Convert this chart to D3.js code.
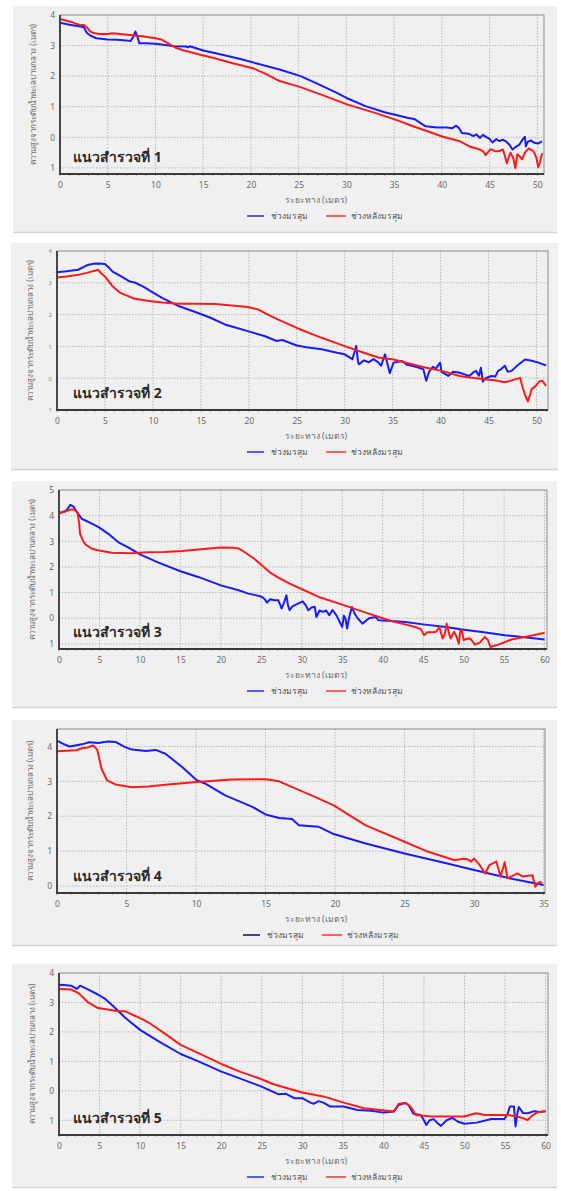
<!DOCTYPE html>
<html><head><meta charset="utf-8">
<script src="https://cdn.jsdelivr.net/npm/d3@7"></script>
<style>
html,body{margin:0;padding:0;background:#fff;}
svg{display:block;}
text{font-family:"Noto Sans","DejaVu Sans",sans-serif;}
</style></head>
<body>
<svg id="chart" width="561" height="1191"></svg>
<script>
// ---------------- DATA ----------------
const panelTitles = ["แนวสำรวจที่ 1","แนวสำรวจที่ 2","แนวสำรวจที่ 3","แนวสำรวจที่ 4","แนวสำรวจที่ 5"];
const seriesNames = ["ช่วงมรสุม","ช่วงหลังมรสุม"];
const xAxisTitle = "ระยะทาง (เมตร)";
const yAxisTitle = "ความสูงจากระดับน้ำทะเลปานกลาง (เมตร)";

const p1XTicks = [0,5,10,15,20,25,30,35,40,45,50];
const p1YTicks = [-1,0,1,2,3,4];
const p1YTickLabels = ["1","0","1","2","3","4"];
const p1XDomain = [0,50.7];
const p1YDomain = [-1.2,4];
const p1Monsoon = [[0,3.75],[1,3.68],[2,3.63],[2.5,3.6],[2.8,3.42],[3.2,3.32],[3.8,3.24],[5,3.2],[6,3.19],[6.9,3.17],[7.4,3.15],[7.7,3.3],[7.9,3.46],[8.1,3.3],[8.3,3.08],[9,3.08],[10,3.06],[10.8,3.03],[12,2.98],[13.2,2.97],[13.4,2.94],[13.6,2.98],[15,2.84],[17,2.7],[19,2.55],[20.2,2.45],[22,2.3],[23,2.22],[25.2,2.0],[27,1.75],[29,1.45],[30.2,1.26],[32,1.02],[34,0.82],[35.2,0.73],[36.5,0.63],[37.1,0.6],[37.5,0.52],[38.3,0.36],[39.5,0.32],[40.5,0.32],[41.1,0.3],[41.5,0.38],[41.8,0.3],[42.1,0.14],[42.8,0.12],[43.3,0.04],[43.6,0.1],[44.0,-0.02],[44.3,0.08],[44.7,0.0],[45.0,-0.05],[45.3,-0.17],[45.7,-0.06],[46.0,-0.12],[46.4,-0.08],[46.7,-0.13],[47.1,-0.25],[47.4,-0.4],[47.8,-0.3],[48.1,-0.25],[48.4,-0.1],[48.7,0.02],[48.8,-0.3],[49.0,-0.15],[49.3,-0.1],[49.7,-0.18],[50.1,-0.2],[50.5,-0.13]];
const p1PostMonsoon = [[0,3.87],[0.6,3.82],[1.3,3.76],[2,3.68],[2.5,3.67],[2.8,3.6],[3.1,3.48],[3.4,3.42],[4.1,3.38],[5,3.38],[5.5,3.4],[6.5,3.37],[7.6,3.34],[8.8,3.3],[10,3.24],[10.6,3.2],[11.1,3.11],[12.1,2.93],[13,2.84],[14.6,2.71],[16,2.6],[18.1,2.42],[20.2,2.26],[21.5,2.08],[23,1.84],[25.2,1.64],[27.5,1.38],[30.2,1.06],[33,0.8],[35.2,0.57],[36.9,0.37],[38.5,0.2],[40.1,0.02],[41.8,-0.12],[42.9,-0.3],[43.9,-0.39],[44.3,-0.45],[44.6,-0.58],[45.0,-0.42],[45.2,-0.39],[45.6,-0.46],[46.0,-0.45],[46.4,-0.4],[46.6,-0.6],[46.8,-0.85],[47.0,-0.65],[47.2,-0.5],[47.5,-0.7],[47.7,-1.01],[47.9,-0.56],[48.1,-0.6],[48.4,-0.72],[48.7,-0.5],[49.1,-0.36],[49.4,-0.42],[49.6,-0.45],[49.9,-0.67],[50.1,-0.98],[50.3,-0.8],[50.5,-0.52]];

const p2XTicks = [0,5,10,15,20,25,30,35,40,45,50];
const p2YTicks = [-1,0,1,2,3,4];
const p2YTickLabels = ["1","0","1","2","3","4"];
const p2XDomain = [0,51.2];
const p2YDomain = [-1,4];
const p2Monsoon = [[0,3.33],[1,3.36],[2.2,3.41],[2.8,3.5],[3.2,3.56],[3.8,3.6],[4.3,3.61],[5.0,3.59],[5.4,3.48],[5.8,3.35],[6.7,3.2],[7.6,3.04],[8.1,3.01],[9,2.88],[9.8,2.73],[11,2.52],[12.6,2.28],[14.7,2.05],[16,1.9],[17.5,1.69],[18.5,1.6],[19.9,1.48],[21.7,1.32],[22.9,1.17],[23.5,1.2],[25,1.03],[26,0.97],[27.6,0.91],[28.5,0.85],[29.2,0.8],[30,0.75],[30.8,0.6],[31.0,0.8],[31.2,1.01],[31.4,0.5],[31.5,0.44],[32,0.56],[32.5,0.5],[33,0.6],[33.5,0.5],[33.8,0.39],[34.2,0.75],[34.5,0.4],[34.7,0.16],[35.1,0.49],[35.6,0.52],[36,0.54],[36.5,0.42],[37,0.39],[37.5,0.35],[38.2,0.28],[38.5,-0.08],[38.8,0.2],[39.2,0.36],[39.5,0.3],[39.95,0.49],[40.1,0.2],[40.8,0.07],[41.3,0.2],[41.9,0.18],[42.5,0.12],[43.0,0.07],[43.4,0.18],[43.7,0.23],[44.0,0.08],[44.2,0.33],[44.4,-0.11],[44.7,0.0],[45.3,0.07],[45.7,0.05],[46.0,0.23],[46.3,0.28],[46.7,0.39],[47.0,0.2],[47.4,0.23],[48,0.4],[48.8,0.59],[49.5,0.55],[50.2,0.49],[51,0.4]];
const p2PostMonsoon = [[0,3.17],[1,3.2],[2.2,3.25],[3.2,3.32],[4.3,3.41],[4.6,3.3],[5.0,3.2],[5.8,2.89],[6.5,2.7],[7.1,2.62],[8.1,2.5],[9.8,2.42],[11,2.38],[12.6,2.34],[14.5,2.34],[16.5,2.33],[18.5,2.28],[19.9,2.24],[21,2.16],[22,2.0],[23.07,1.84],[25.0,1.58],[27.6,1.27],[30,1.01],[32,0.8],[33.5,0.65],[35.1,0.59],[37.0,0.44],[38.5,0.33],[40.1,0.23],[42,0.07],[43,0.02],[44.6,-0.03],[45.8,-0.07],[46.7,-0.13],[47.5,-0.06],[48.3,0.01],[48.6,-0.34],[48.9,-0.6],[49.1,-0.73],[49.3,-0.55],[49.5,-0.34],[49.9,-0.25],[50.3,-0.1],[50.6,-0.08],[51,-0.24]];

const p3XTicks = [0,5,10,15,20,25,30,35,40,45,50,55,60];
const p3YTicks = [-1,0,1,2,3,4,5];
const p3YTickLabels = ["1","0","1","2","3","4","5"];
const p3XDomain = [0,60.3];
const p3YDomain = [-1.2,5];
const p3Monsoon = [[0,4.1],[0.3,4.12],[0.9,4.2],[1.4,4.42],[1.8,4.35],[2.1,4.2],[2.8,3.88],[4,3.7],[4.9,3.55],[6.1,3.29],[7.3,2.97],[8.6,2.75],[10,2.49],[12.3,2.17],[15,1.83],[17.2,1.61],[20,1.28],[22.2,1.09],[23.4,0.96],[24.3,0.9],[25.1,0.83],[25.4,0.75],[25.7,0.61],[26.1,0.74],[26.6,0.7],[27.1,0.7],[27.3,0.55],[27.5,0.38],[27.8,0.6],[28.1,0.89],[28.3,0.5],[28.5,0.31],[28.8,0.45],[29.4,0.55],[30.1,0.66],[30.5,0.5],[30.8,0.31],[31.2,0.42],[31.6,0.45],[31.8,0.05],[32.2,0.3],[32.6,0.25],[33.0,0.3],[33.4,0.12],[33.8,0.32],[34.3,0.1],[35.0,-0.34],[35.2,0.1],[35.4,-0.01],[35.6,-0.4],[35.9,0.1],[36.2,0.44],[36.5,0.2],[36.9,0.0],[37.5,-0.21],[38.3,0.0],[39.1,0.05],[39.5,-0.08],[40.5,-0.1],[41.6,-0.12],[42.8,-0.15],[45,-0.24],[47.8,-0.34],[49.8,-0.44],[52.5,-0.55],[55.1,-0.66],[57.5,-0.74],[60,-0.83]];
const p3PostMonsoon = [[0,4.1],[0.7,4.15],[1.4,4.24],[1.9,4.24],[2.3,4.1],[2.5,3.68],[2.6,3.29],[3.0,3.0],[3.3,2.87],[4.0,2.72],[4.8,2.65],[6.5,2.55],[8.9,2.53],[11,2.57],[13,2.58],[15.2,2.62],[17.2,2.68],[20,2.76],[21.5,2.75],[22.2,2.72],[22.6,2.65],[24,2.35],[25.1,2.06],[26,1.8],[27.1,1.58],[28.5,1.35],[30.1,1.12],[32.1,0.83],[35,0.53],[37.9,0.22],[39.9,0.01],[41.4,-0.14],[43,-0.26],[44.0,-0.34],[44.7,-0.42],[45.1,-0.66],[45.5,-0.55],[46.3,-0.55],[46.6,-0.53],[47.0,-0.34],[47.4,-0.79],[47.7,-0.6],[47.9,-0.21],[48.2,-0.6],[48.4,-0.79],[48.8,-0.53],[49.1,-0.7],[49.4,-0.99],[49.6,-0.47],[49.8,-0.5],[50.0,-0.85],[50.4,-0.8],[50.8,-0.79],[51.1,-0.9],[51.4,-1.03],[52,-0.95],[52.6,-0.73],[53.0,-0.85],[53.3,-1.12],[54.3,-1.03],[55.9,-0.83],[58,-0.7],[60,-0.57]];

const p4XTicks = [0,5,10,15,20,25,30,35];
const p4YTicks = [0,1,2,3,4];
const p4YTickLabels = ["0","1","2","3","4"];
const p4XDomain = [0,35.1];
const p4YDomain = [-0.2,4.5];
const p4Monsoon = [[0,4.17],[0.4,4.08],[0.9,4.0],[1.8,4.06],[2.3,4.12],[3.0,4.1],[3.4,4.13],[3.7,4.14],[4.2,4.13],[4.9,3.98],[5.4,3.91],[6.4,3.87],[7.1,3.9],[7.8,3.79],[9.0,3.41],[10.05,3.03],[10.7,2.93],[12.1,2.6],[14.05,2.27],[15,2.05],[15.97,1.95],[16.9,1.92],[17.4,1.74],[18.8,1.7],[19.9,1.49],[22.2,1.22],[25,0.93],[28,0.65],[30,0.46],[31.6,0.31],[32.8,0.2],[35,0.03]];
const p4PostMonsoon = [[0,3.86],[1.4,3.89],[1.8,3.95],[2.2,3.97],[2.6,4.03],[2.9,3.9],[3.2,3.36],[3.6,3.03],[4.2,2.91],[5.4,2.83],[6.6,2.85],[7.8,2.9],[10.05,2.98],[12.6,3.05],[15,3.06],[15.97,3.0],[18.3,2.6],[19.9,2.31],[22.2,1.74],[25,1.27],[26.7,0.98],[28.6,0.74],[29.2,0.78],[29.5,0.77],[29.8,0.7],[30,0.79],[30.4,0.6],[30.8,0.36],[31.1,0.6],[31.6,0.7],[31.9,0.27],[32.2,0.68],[32.4,0.22],[32.8,0.3],[33.1,0.36],[33.5,0.27],[34.2,0.31],[34.4,-0.02],[34.7,0.12],[34.9,0.08]];

const p5XTicks = [0,5,10,15,20,25,30,35,40,45,50,55,60];
const p5YTicks = [-1,0,1,2,3,4];
const p5YTickLabels = ["1","0","1","2","3","4"];
const p5XDomain = [0,60.3];
const p5YDomain = [-1.5,4];
const p5Monsoon = [[0,3.57],[0.3,3.6],[1.5,3.57],[2.2,3.46],[2.6,3.57],[3.5,3.45],[4.8,3.27],[5.7,3.12],[6.7,2.87],[8.2,2.47],[10,2.07],[12.3,1.68],[15,1.25],[17.2,1.0],[19.95,0.66],[22.2,0.43],[24.9,0.15],[27.1,-0.12],[28,-0.1],[29,-0.25],[30,-0.25],[31.0,-0.4],[31.4,-0.44],[32,-0.35],[32.6,-0.4],[33.4,-0.53],[35.1,-0.53],[36.8,-0.65],[38.5,-0.68],[40,-0.74],[41.3,-0.7],[41.9,-0.48],[42.7,-0.41],[43.1,-0.48],[43.7,-0.78],[44.6,-0.82],[45.0,-1.0],[45.3,-1.16],[45.7,-1.0],[46.2,-0.96],[46.7,-1.1],[47.1,-1.19],[47.8,-1.0],[48.5,-0.92],[49.2,-1.05],[50,-1.12],[51.5,-1.08],[53.3,-0.96],[54.9,-0.96],[55.3,-0.8],[55.6,-0.53],[56.1,-0.53],[56.3,-1.21],[56.5,-0.8],[56.7,-0.55],[57.2,-0.75],[57.8,-0.76],[58.6,-0.69],[59.3,-0.72],[60,-0.69]];
const p5PostMonsoon = [[0,3.46],[1.5,3.44],[2.4,3.32],[3.6,3.0],[4.8,2.81],[6,2.76],[7.3,2.7],[8.2,2.7],[9,2.59],[10.2,2.44],[11.1,2.31],[13,1.95],[15,1.56],[17.2,1.28],[19.95,0.92],[22.2,0.66],[24.9,0.4],[26.3,0.24],[27.1,0.17],[30,-0.06],[32.6,-0.19],[35.1,-0.4],[37.6,-0.59],[39.6,-0.65],[41.3,-0.7],[41.9,-0.44],[42.7,-0.41],[43.4,-0.55],[44,-0.82],[45.9,-0.87],[47.1,-0.87],[50,-0.87],[51.4,-0.76],[52.5,-0.82],[55.3,-0.82],[56.9,-0.9],[57.8,-0.99],[58.3,-0.85],[59,-0.73],[60,-0.69]];

// ---------------- LAYOUT ----------------
const panels = [
  {frame:[13,6,557,233], plot:[60,15,544,174], xTicks:p1XTicks, yTicks:p1YTicks, yLabels:p1YTickLabels, xDom:p1XDomain, yDom:p1YDomain, s:[p1Monsoon,p1PostMonsoon], title:panelTitles[0], legendX:247, legendCol:"#2b2bff", yFont:8.5},
  {frame:[11,243,558,470], plot:[57,251,548,410], xTicks:p2XTicks, yTicks:p2YTicks, yLabels:p2YTickLabels, xDom:p2XDomain, yDom:p2YDomain, s:[p2Monsoon,p2PostMonsoon], title:panelTitles[1], legendX:247, legendCol:"#2b2bff", yFont:6},
  {frame:[12,481,557,708], plot:[59,490,547,649], xTicks:p3XTicks, yTicks:p3YTicks, yLabels:p3YTickLabels, xDom:p3XDomain, yDom:p3YDomain, s:[p3Monsoon,p3PostMonsoon], title:panelTitles[2], legendX:247, legendCol:"#2b2bff", yFont:8.5},
  {frame:[12,720,557,946], plot:[57,729,545,893], xTicks:p4XTicks, yTicks:p4YTicks, yLabels:p4YTickLabels, xDom:p4XDomain, yDom:p4YDomain, s:[p4Monsoon,p4PostMonsoon], title:panelTitles[3], legendX:243, legendCol:"#10104a", yFont:8.5},
  {frame:[12,964,557,1188], plot:[59,973,548,1135], xTicks:p5XTicks, yTicks:p5YTicks, yLabels:p5YTickLabels, xDom:p5XDomain, yDom:p5YDomain, s:[p5Monsoon,p5PostMonsoon], title:panelTitles[4], legendX:247, legendCol:"#2b2bff", yFont:8.5}
];
const lineColors = ["#1a1aff","#ff1a1a"];

const svg = d3.select("#chart");

panels.forEach((p,i)=>{
  const [fx0,fy0,fx1,fy1] = p.frame;
  const [l,t,r,b] = p.plot;
  const g = svg.append("g");
  g.append("rect").attr("x",fx0).attr("y",fy0).attr("width",fx1-fx0).attr("height",fy1-fy0)
    .attr("fill","#f0f0f0");
  g.append("line").attr("x1",fx0).attr("x2",fx1).attr("y1",fy1-0.5).attr("y2",fy1-0.5)
    .attr("stroke","#d4d4d4").attr("stroke-width",1.5);

  const x = d3.scaleLinear().domain(p.xDom).range([l,r]);
  const y = d3.scaleLinear().domain(p.yDom).range([b,t]);

  // grid
  g.append("g").selectAll("line").data(p.xTicks.filter(v=>v>p.xDom[0]&&v<p.xDom[1])).join("line")
    .attr("x1",d=>x(d)).attr("x2",d=>x(d)).attr("y1",t).attr("y2",b)
    .attr("stroke","#b8b8b8").attr("stroke-width",1).attr("stroke-dasharray","1.5,1.5");
  g.append("g").selectAll("line").data(p.yTicks.filter(v=>v>p.yDom[0]&&v<p.yDom[1])).join("line")
    .attr("x1",l).attr("x2",r).attr("y1",d=>y(d)).attr("y2",d=>y(d))
    .attr("stroke","#b8b8b8").attr("stroke-width",1).attr("stroke-dasharray","1.5,1.5");

  // x axis
  const xAxis = d3.axisBottom(x).tickValues(p.xTicks).tickSize(0).tickPadding(8).tickFormat(d3.format("d"));
  const xg = g.append("g").attr("transform",`translate(0,${b})`).call(xAxis);
  xg.select(".domain").remove();
  xg.selectAll("text").attr("fill","#6a6a6a").attr("font-size",8.5).attr("font-family","DejaVu Serif, serif");
  // minor ticks
  const minor = d3.range(Math.ceil(p.xDom[0]), Math.floor(p.xDom[1])+1);
  g.append("g").selectAll("line").data(minor).join("line")
    .attr("x1",d=>x(d)).attr("x2",d=>x(d)).attr("y1",b).attr("y2",b+2)
    .attr("stroke","#777").attr("stroke-width",0.6);

  // y axis
  const yAxis = d3.axisLeft(y).tickValues(p.yTicks).tickSize(0).tickPadding(5)
    .tickFormat((d,k)=>p.yLabels[k]);
  const yg = g.append("g").attr("transform",`translate(${l},0)`).call(yAxis);
  yg.select(".domain").remove();
  yg.selectAll("text").attr("fill", p.yFont<7 ? "#888" : "#6a6a6a").attr("font-size",p.yFont).attr("font-family","DejaVu Serif, serif");

  // clip
  const cid = "clip"+i;
  svg.append("clipPath").attr("id",cid).append("rect").attr("x",l).attr("y",t).attr("width",r-l).attr("height",b-t);

  const line = d3.line().x(d=>x(d[0])).y(d=>y(d[1]));
  p.s.forEach((data,k)=>{
    g.append("path").datum(data).attr("d",line).attr("fill","none")
      .attr("stroke",lineColors[k]).attr("stroke-width",2).attr("stroke-linejoin","round")
      .attr("clip-path",`url(#${cid})`);
  });

  // plot border
  g.append("rect").attr("x",l).attr("y",t).attr("width",r-l).attr("height",b-t)
    .attr("fill","none").attr("stroke","#8a8a8a").attr("stroke-width",1);
  g.append("path").attr("d",`M${l},${t}V${b}H${r}`).attr("fill","none").attr("stroke","#3a3a3a").attr("stroke-width",1.8);

  // title annotation
  g.append("text").attr("x",73).attr("y",b-12).text(p.title)
    .attr("font-size",14).attr("font-weight","bold").attr("fill","#2a2a2a");

  // y axis title
  g.append("text").attr("transform",`translate(${l-24},${(t+b)/2}) rotate(-90)`)
    .attr("text-anchor","middle").attr("font-size",8).attr("fill","#6a6a6a").text(yAxisTitle);

  // x axis title
  g.append("text").attr("x",316).attr("y",b+29).attr("text-anchor","middle")
    .attr("font-size",8.5).attr("fill","#6a6a6a").text(xAxisTitle);

  // legend
  const ly = b+42;
  const lx = p.legendX;
  g.append("line").attr("x1",lx).attr("x2",lx+17).attr("y1",ly).attr("y2",ly).attr("stroke",p.legendCol).attr("stroke-width",1.5);
  g.append("text").attr("x",lx+24).attr("y",ly+3).attr("font-size",8.5).attr("fill","#555").text(seriesNames[0]);
  g.append("line").attr("x1",lx+79).attr("x2",lx+99).attr("y1",ly).attr("y2",ly).attr("stroke","#ff3030").attr("stroke-width",1.5);
  g.append("text").attr("x",lx+104).attr("y",ly+3).attr("font-size",8.5).attr("fill","#555").text(seriesNames[1]);
});
</script>
</body></html>
